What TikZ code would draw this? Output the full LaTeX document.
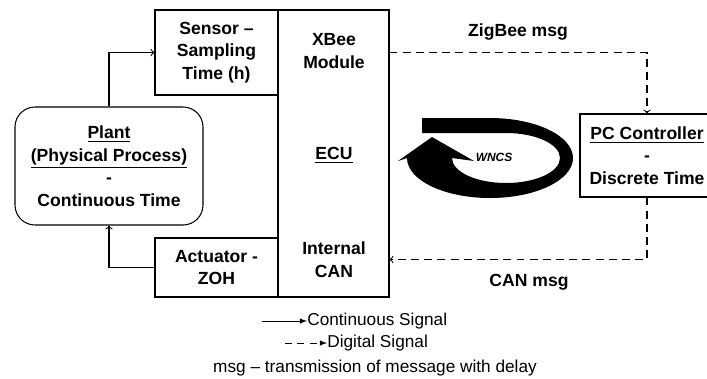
\documentclass[tikz,border=0pt]{standalone}
\usepackage{fontspec}
\setmainfont{Liberation Sans}
\usepackage{tikz}
\usetikzlibrary{%
   arrows,%
   calc,%
   positioning}

\newcommand{\diagfont}{\fontsize{10}{12.8}\selectfont\bfseries}
\newcommand{\legfont}{\fontsize{9.8}{11}\selectfont}

\begin{document}
\begin{tikzpicture}
[typeB/.style={rectangle,draw,semithick,inner sep=0pt,align=center,font=\diagfont},
 typeR/.style={typeB,rounded corners=4mm},
 typeT/.style={inner sep=0pt,align=center,font=\diagfont},
 typeL/.style={inner sep=0pt,font=\legfont},
 hv path/.style={semithick,->, to path={-| (\tikztotarget)}},
 vh path/.style={semithick,->, to path={|- (\tikztotarget)}},
 dhv path/.style={hv path,dash pattern=on 4.5pt off 3pt},
 dvh path/.style={vh path,dash pattern=on 4.5pt off 3pt}]
\begin{scope}[x=0.2mm, y=-0.2mm]
\useasboundingbox (0,0) rectangle (707,378);
\node[typeB,minimum width=24.6mm,minimum height=17mm]   (Sens)  at (216.5, 52.5) {Sensor --\\Sampling\\Time (h)};
\node[typeB,minimum width=22.2mm,minimum height=57.4mm] (ECU)   at (333.5,153.5) {};
\node[typeB,minimum width=24.6mm,minimum height=11.8mm] (Act)   at (216.5,267.5) {Actuator -\\ZOH};
\node[typeR,minimum width=37.6mm,minimum height=23.6mm] (Plant) at (109  ,166  ) {\underline{Plant}\\\underline{(Physical Process)}\\-\\Continuous Time};
\node[typeB,minimum width=26.8mm,minimum height=16.6mm] (PC)    at (647  ,155.5) {\underline{PC Controller}\\-\\Discrete Time};
\node[typeT] (XBee) at (334, 51  ) {XBee\\Module};
\node[typeT] (Unit) at (334,155  ) {\underline{ECU}};
\node[typeT] (Int)  at (334,259.5) {Internal\\CAN};
\node[typeT] (Zig)  at (518, 32  ) {ZigBee msg};
\node[typeT] (Can)  at (529,282  ) {CAN msg};
% WNCS loop
\fill (422,118) -- (490,118) arc[start angle=-90, end angle=180, x radius=83, y radius=40]
      -- (398,161) -- (432,137) -- (474,161) -- (452,158)
      arc[start angle=180, end angle=-90, x radius=54, y radius=25] -- (422,133) -- cycle;
\node[inner sep=0pt,font=\fontsize{6.8}{8}\selectfont\bfseries\itshape] (Loop) at (494,157) {WNCS};
% legend
\node[typeL,anchor=west] (LegC) at (307,321) {Continuous Signal};
\node[typeL,anchor=west] (LegD) at (327,343) {Digital Signal};
\node[typeL]             (LegM) at (375,368) {msg -- transmission of message with delay};
\coordinate (legC) at (262,321);
\coordinate (legD) at (285,343);
\path (Plant.north)          edge[vh path] (Sens.west)
      (Act.west)             edge[hv path] (Plant.south)
      (ECU.east |- Sens.west) edge[dhv path] (PC.north)
      (PC.south)             edge[dvh path] (ECU.east |- Int.center)
      (legC)                 edge[thin,-latex] (LegC.west)
      (legD)                 edge[thin,-latex,dash pattern=on 4pt off 3pt] (LegD.west);
\end{scope}
\end{tikzpicture}
\end{document}
